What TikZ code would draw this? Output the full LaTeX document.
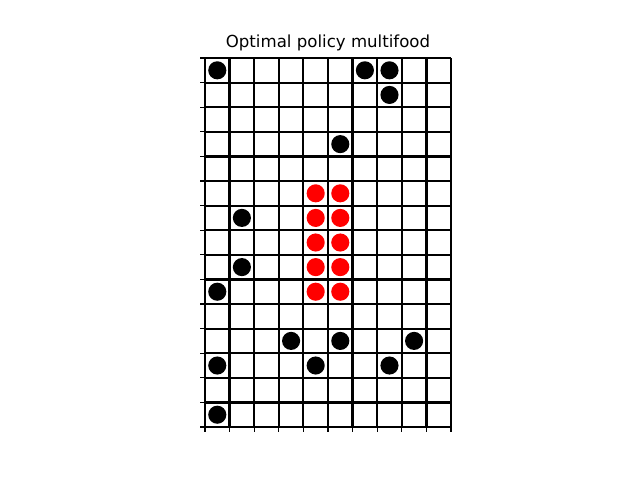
\documentclass[tikz,border=0pt]{standalone}
\usepackage{fontspec}
\setmainfont{DejaVu Sans}
\def\cellsize{6.2484mm}
\def\dotrad{2.3mm}

\begin{document}
\begin{tikzpicture}[x=\cellsize,y=-\cellsize,
  food/.style={fill=black},
  agent/.style={fill=red}]
% the page, as large as the figure
\useasboundingbox (-8.333,-2.358) rectangle (17.683,17.154);
% the title
\node[font=\fontsize{12}{14}\selectfont] (title) at (5,-0.62) {Optimal policy multifood};
% the grid
\foreach \c in {0,...,10}
  \draw[line width=1.6pt] (\c,0) -- (\c,15);
\foreach \r in {0,...,15}
  \draw[line width=1.6pt] (0,\r) -- (10,\r);
% the ticks on the left and at the bottom
\foreach \r in {0,...,15}
  \draw[line width=0.8pt] (0,\r) -- (-0.2,\r);
\foreach \c in {0,...,10}
  \draw[line width=0.8pt] (\c,15) -- (\c,15.2);
% the black dots
\foreach \c/\r in {0/0,6/0,7/0,7/1,5/3,1/6,1/8,0/9,3/11,5/11,8/11,0/12,4/12,7/12,0/14}
  \fill[food] (\c+0.5,\r+0.5) circle[radius=\dotrad];
% the red dots
\foreach \r in {5,...,9}
  \fill[agent] (4.5,\r+0.5) circle[radius=\dotrad] (5.5,\r+0.5) circle[radius=\dotrad];
\end{tikzpicture}
\end{document}
